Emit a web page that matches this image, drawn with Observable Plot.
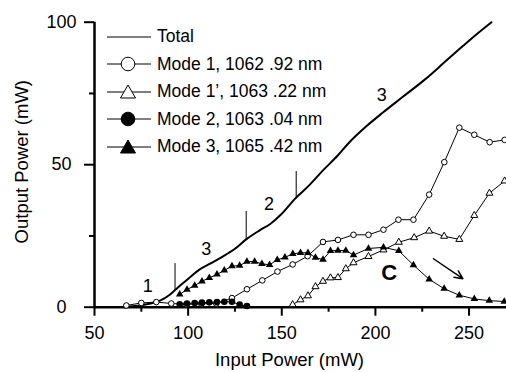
<!DOCTYPE html>
<html>
<head>
<meta charset="utf-8">
<script src="https://cdn.jsdelivr.net/npm/d3@7"></script>
<script src="https://cdn.jsdelivr.net/npm/@observablehq/plot@0.6"></script>
<style>
  html, body { margin: 0; padding: 0; background: #fff; }
  #wrap { position: relative; width: 506px; height: 372px; font-family: "Liberation Sans", Arial, Helvetica, sans-serif; }
  #legend { position: absolute; left: 106px; top: 23px; }
  .row { display: flex; align-items: center; height: 27.5px; }
  .row svg { width: 46px; height: 20px; flex: none; }
  .row span { margin-left: 5px; font-size: 17.5px; color: #000; white-space: nowrap; }
</style>
</head>
<body>
<div id="wrap"></div>
<script>
// ---- data ----
const xTicks = [50, 100, 150, 200, 250];
const xMinorTicks = [75, 125, 175, 225];
const yTicks = [0, 50, 100];
const yMinorTicks = [25, 75];

const totalX = [66, 70, 75, 80, 85, 90, 93, 97, 101, 106, 112, 118, 125, 131, 138, 144, 150, 157, 165, 172, 180, 186, 195, 204, 215, 227, 237, 247, 255, 262];
const totalY = [0, 0.3, 0.7, 1.3, 2.3, 4.3, 6, 8.3, 10.5, 13.2, 15.4, 17.6, 20.5, 23.8, 26.9, 29.3, 32.8, 38, 43, 48, 53.3, 57.8, 63.4, 68.3, 74, 80.2, 86, 91.8, 96.3, 100];

const mode1X = [67, 75, 83, 91, 99, 107, 115, 123.4, 131.4, 139.6, 147.7, 155.8, 163.8, 172, 180, 188.3, 196.3, 204.3, 212.3, 220.3, 228.7, 236.8, 244.8, 252.8, 261, 269];
const mode1Y = [0.6, 1.5, 1.8, 1.3, 1.0, 1.2, 1.3, 3.2, 6.3, 9.4, 12.5, 15, 17.9, 22.9, 23.6, 25.4, 25.4, 27.2, 30.7, 30.7, 39.5, 50.9, 63, 60.5, 57.9, 58.7];

const mode1pX = [155.8, 160, 164, 168, 172, 176, 180, 184.2, 188.3, 196.3, 204.3, 212.5, 220.7, 228.7, 236.7, 244.8, 252.8, 260.9, 269];
const mode1pY = [0.9, 2.6, 4, 7.2, 9.1, 10.3, 10.4, 13.5, 15.6, 17.8, 20.1, 22.8, 24.4, 26.7, 24.9, 23.8, 32.2, 40, 44.3];

const mode2X = [95.5, 99.4, 103.5, 107.4, 111.3, 115.4, 119.3, 123.4, 127.5, 131.4];
const mode2Y = [1.0, 1.3, 1.5, 1.6, 1.7, 1.8, 1.9, 1.9, 0.9, 0.4];

const mode3X = [95.5, 99.4, 103.5, 107.4, 111.3, 115.4, 119.3, 123.4, 127.5, 131.4, 135.5, 139.4, 143.5, 147.6, 151.7, 155.9, 160, 164, 168, 172, 176, 180, 184.2, 188.3, 196.3, 204.3, 212.5, 220.3, 228.7, 236.7, 244.8, 252.8, 260.8, 268.8];
const mode3Y = [4.5, 6.2, 7.6, 9.1, 10.3, 11.5, 12.9, 14.4, 14.6, 16, 16, 15.2, 14.9, 16.6, 17.5, 18.7, 19.1, 19.1, 17.4, 16.7, 19.8, 19.9, 19.9, 18.3, 20.6, 21, 19.8, 14.8, 9.8, 6.5, 4.2, 2.9, 2.3, 2.0];

const markerX = [93, 131, 157.7];
const markerY1 = [5.9, 23.8, 38];
const markerY2 = [15.3, 33.6, 47.6];

const labelText = ["1", "3", "2", "3"];
const labelX = [78.5, 109.7, 143.2, 203.4];
const labelY = [7.3, 20.3, 36.3, 74.3];

const cLabel = ["C"];
const cX = [207.3];
const cY = [12];

const arrowX1 = [231], arrowY1 = [17], arrowX2 = [246.7], arrowY2 = [10];

const legendLabels = ["Total", "Mode 1, 1062 .92 nm", "Mode 1\u2019, 1063 .22 nm", "Mode 2, 1063 .04 nm", "Mode 3, 1065 .42 nm"];
const legendSymbols = ["none", "circle-open", "triangle-open", "circle", "triangle"];

// ---- build tables ----
const zip = (xs, ys) => xs.map((x, i) => ({x, y: ys[i]}));
const total = zip(totalX, totalY);
const mode1 = zip(mode1X, mode1Y);
const mode1p = zip(mode1pX, mode1pY);
const mode2 = zip(mode2X, mode2Y);
const mode3 = zip(mode3X, mode3Y);
const markers = markerX.map((x, i) => ({x, y1: markerY1[i], y2: markerY2[i]}));
const labels = labelText.map((t, i) => ({t, x: labelX[i], y: labelY[i]}));
const cl = cLabel.map((t, i) => ({t, x: cX[i], y: cY[i]}));
const arrows = arrowX1.map((x1, i) => ({x1, y1: arrowY1[i], x2: arrowX2[i], y2: arrowY2[i]}));

const font = "Liberation Sans, Arial, Helvetica, sans-serif";

const chart = Plot.plot({
  width: 506,
  height: 372,
  marginLeft: 94,
  marginRight: 0,
  marginTop: 21.7,
  marginBottom: 65.3,
  style: {fontFamily: font, fontSize: "18px", background: "white", color: "black", overflow: "visible"},
  x: {domain: [50, 270]},
  y: {domain: [0, 100]},
  marks: [
    Plot.axisX(xTicks, {tickSize: 9, tickPadding: 10, strokeWidth: 2, fontSize: 18, label: null}),
    Plot.axisX(xMinorTicks, {tickSize: 5, strokeWidth: 2, tickFormat: () => "", label: null}),
    Plot.axisY(yTicks, {tickSize: 10, tickPadding: 23, strokeWidth: 2, fontSize: 18, textAnchor: "middle", label: null}),
    Plot.axisY(yMinorTicks, {tickSize: 5, strokeWidth: 2, tickFormat: () => "", label: null}),
    Plot.ruleY([0], {strokeWidth: 2.5}),
    Plot.ruleX([50], {strokeWidth: 2.5}),
    Plot.text(["Output Power (mW)"], {text: d => d, frameAnchor: "left", textAnchor: "middle", lineAnchor: "middle", rotate: -90, dx: -72, dy: -3, fontSize: 18.5}),
    Plot.text(["Input Power (mW)"], {text: d => d, frameAnchor: "bottom", textAnchor: "middle", dx: -11, dy: 59, fontSize: 18.5}),
    Plot.line(total, {x: "x", y: "y", strokeWidth: 2, curve: "monotone-x"}),
    Plot.ruleX(markers, {x: "x", y1: "y1", y2: "y2", strokeWidth: 1}),
    Plot.line(mode1, {x: "x", y: "y", strokeWidth: 1}),
    Plot.dot(mode1, {x: "x", y: "y", r: 2.8, fill: "white", stroke: "black", strokeWidth: 1}),
    Plot.line(mode1p, {x: "x", y: "y", strokeWidth: 1}),
    Plot.dot(mode1p, {x: "x", y: "y", symbol: "triangle", r: 2.6, fill: "white", stroke: "black", strokeWidth: 1}),
    Plot.line(mode2, {x: "x", y: "y", strokeWidth: 1}),
    Plot.dot(mode2, {x: "x", y: "y", r: 3.3, fill: "black", stroke: "none"}),
    Plot.line(mode3, {x: "x", y: "y", strokeWidth: 1}),
    Plot.dot(mode3, {x: "x", y: "y", symbol: "triangle", r: 2.8, fill: "black", stroke: "none"}),
    Plot.text(labels, {x: "x", y: "y", text: "t", fontSize: 18}),
    Plot.text(cl, {x: "x", y: "y", text: "t", fontSize: 22, fontWeight: "bold"}),
    Plot.arrow(arrows, {x1: "x1", y1: "y1", x2: "x2", y2: "y2", strokeWidth: 1.5, headLength: 9, headAngle: 50})
  ]
});

const wrap = document.getElementById("wrap");
wrap.appendChild(chart);

// ---- legend (inside plot area, top-left) ----
const legend = document.createElement("div");
legend.id = "legend";
const NS = "http://www.w3.org/2000/svg";
legendLabels.forEach((lab, i) => {
  const row = document.createElement("div");
  row.className = "row";
  const svg = document.createElementNS(NS, "svg");
  svg.setAttribute("viewBox", "0 0 46 20");
  const line = document.createElementNS(NS, "line");
  line.setAttribute("x1", 1); line.setAttribute("x2", 45);
  line.setAttribute("y1", 10); line.setAttribute("y2", 10);
  line.setAttribute("stroke", "black"); line.setAttribute("stroke-width", 1);
  svg.appendChild(line);
  const sym = legendSymbols[i];
  if (sym.startsWith("circle")) {
    const c = document.createElementNS(NS, "circle");
    c.setAttribute("cx", 22); c.setAttribute("cy", 10); c.setAttribute("r", 6.8);
    c.setAttribute("fill", sym === "circle" ? "black" : "white");
    c.setAttribute("stroke", "black"); c.setAttribute("stroke-width", 1);
    svg.appendChild(c);
  } else if (sym.startsWith("triangle")) {
    const p = document.createElementNS(NS, "polygon");
    p.setAttribute("points", "22,3 29.5,16 14.5,16");
    p.setAttribute("fill", sym === "triangle" ? "black" : "white");
    p.setAttribute("stroke", "black"); p.setAttribute("stroke-width", 1);
    svg.appendChild(p);
  }
  row.appendChild(svg);
  const span = document.createElement("span");
  span.textContent = lab;
  row.appendChild(span);
  legend.appendChild(row);
});
wrap.appendChild(legend);
</script>
</body>
</html>
